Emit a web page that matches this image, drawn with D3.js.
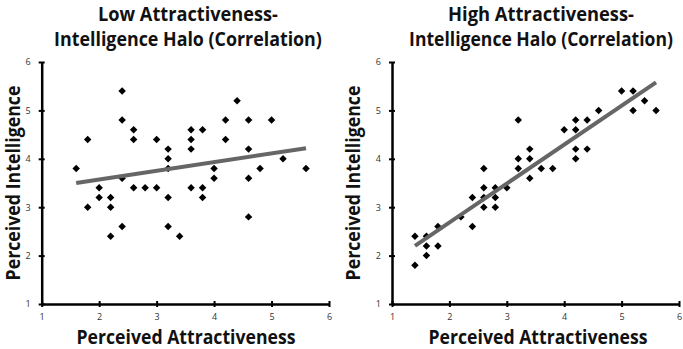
<!DOCTYPE html>
<html><head><meta charset="utf-8">
<script src="https://cdn.jsdelivr.net/npm/d3@7"></script>
<style>
html,body{margin:0;padding:0;background:#fff;}
svg{display:block;}
</style></head>
<body>
<svg id="chart" width="683" height="349"></svg>
<script>
// ---- Data ----
const axisTicks = [1, 2, 3, 4, 5, 6];
const panelTitles = [["Low Attractiveness-", "Intelligence Halo (Correlation)"],
                     ["High Attractiveness-", "Intelligence Halo (Correlation)"]];
const xTitle = "Perceived Attractiveness";
const yTitle = "Perceived Intelligence";

const lowX = [1.6,1.8,1.8,2.0,2.0,2.2,2.2,2.2,2.4,2.4,2.4,2.4,2.6,2.6,2.6,2.8,3.0,3.0,3.2,3.2,3.2,3.2,3.2,3.4,3.6,3.6,3.6,3.6,3.8,3.8,3.8,4.0,4.0,4.2,4.2,4.4,4.6,4.6,4.6,4.6,4.8,5.0,5.2,5.6];
const lowY = [3.8,4.4,3.0,3.4,3.2,3.2,3.0,2.4,5.4,4.8,3.6,2.6,4.6,4.4,3.4,3.4,4.4,3.4,4.2,4.0,3.8,3.2,2.6,2.4,4.6,4.4,4.2,3.4,4.6,3.4,3.2,3.8,3.6,4.8,4.4,5.2,4.8,4.2,3.6,2.8,3.8,4.8,4.0,3.8];
const lowTrendX = [1.6, 5.6];
const lowTrendY = [3.5, 4.22];

const highX = [1.4,1.4,1.6,1.6,1.6,1.8,1.8,2.2,2.4,2.4,2.6,2.6,2.6,2.6,2.8,2.8,2.8,3.0,3.2,3.2,3.2,3.4,3.4,3.4,3.6,3.8,4.0,4.2,4.2,4.2,4.2,4.4,4.4,4.6,5.0,5.2,5.2,5.4,5.6];
const highY = [2.4,1.8,2.4,2.2,2.0,2.6,2.2,2.8,3.2,2.6,3.8,3.4,3.2,3.0,3.4,3.2,3.0,3.4,4.8,4.0,3.8,4.2,4.0,3.6,3.8,3.8,4.6,4.8,4.6,4.2,4.0,4.8,4.2,5.0,5.4,5.4,5.0,5.2,5.0];
const highTrendX = [1.4, 5.6];
const highTrendY = [2.2, 5.58];

// ---- Layout ----
const svg = d3.select("#chart");
const font = "'Open Sans', 'DejaVu Sans', sans-serif";
const yTop = 62, yBot = 304;
const panels = [
  {x0: 41.7, x1: 329, xs: lowX, ys: lowY, tx: lowTrendX, ty: lowTrendY, titles: panelTitles[0],
   t1w: 180, t2w: 268, tcx: 188, axTitleX: 186, yTitleX: 20},
  {x0: 392, x1: 679, xs: highX, ys: highY, tx: highTrendX, ty: highTrendY, titles: panelTitles[1],
   t1w: 186, t2w: 264, tcx: 541, axTitleX: 538, yTitleX: 360}
];

const y = d3.scaleLinear().domain([1, 6]).range([yBot, yTop]);

// horizontally condensed bold text (Calibri-like narrow look) via transform scale
function condensedText(parent, cx, cy, str, size, width, rotate) {
  const g = parent.append("g");
  const t = g.append("text").attr("text-anchor", "middle")
    .attr("font-family", font).attr("font-weight", "bold").attr("font-size", size)
    .attr("fill", "#111").text(str);
  const natural = t.node().getComputedTextLength() || width;
  const s = width / natural;
  g.attr("transform", `translate(${cx},${cy})${rotate ? " rotate(-90)" : ""} scale(${s},1)`);
  return g;
}

panels.forEach(p => {
  const x = d3.scaleLinear().domain([1, 6]).range([p.x0, p.x1]);
  const g = svg.append("g");

  // titles
  condensedText(g, p.tcx, 21, p.titles[0], 20, p.t1w, false);
  condensedText(g, p.tcx, 46, p.titles[1], 20, p.t2w, false);

  // x axis
  const xa = g.append("g").attr("transform", `translate(0,${yBot})`)
    .call(d3.axisBottom(x).tickValues(axisTicks).tickFormat(d3.format("d")).tickSizeOuter(0).tickSizeInner(3));
  xa.select(".domain").attr("stroke", "#000").attr("stroke-width", 2.5);
  xa.selectAll(".tick line").attr("y1", -3).attr("y2", 3).attr("stroke", "#000").attr("stroke-width", 2);
  xa.selectAll(".tick text").attr("y", 10).attr("font-family", font).attr("font-size", 9).attr("fill", "#333");

  // y axis
  const ya = g.append("g").attr("transform", `translate(${p.x0},0)`)
    .call(d3.axisLeft(y).tickValues(axisTicks).tickFormat(d3.format("d")).tickSizeOuter(0).tickSizeInner(3));
  ya.select(".domain").attr("stroke", "#000").attr("stroke-width", 2.5);
  ya.selectAll(".tick line").attr("x1", -3).attr("x2", 3).attr("stroke", "#000").attr("stroke-width", 2);
  ya.selectAll(".tick text").attr("x", -11).attr("font-family", font).attr("font-size", 9).attr("fill", "#333");

  // axis titles
  condensedText(g, p.axTitleX, 344, xTitle, 20, 219, false);
  condensedText(g, p.yTitleX, (yTop + yBot) / 2, yTitle, 20, 195, true);

  // points
  const pts = p.xs.map((v, i) => [v, p.ys[i]]);
  g.selectAll("path.pt").data(pts).enter().append("path").attr("class", "pt")
    .attr("d", d3.symbol().type(d3.symbolSquare).size(28))
    .attr("transform", d => `translate(${x(d[0])},${y(d[1])}) rotate(45)`)
    .attr("fill", "#000");

  // trend line
  const tl = p.tx.map((v, i) => [v, p.ty[i]]);
  g.append("path").datum(tl)
    .attr("d", d3.line().x(d => x(d[0])).y(d => y(d[1])))
    .attr("stroke", "#666").attr("stroke-width", 4).attr("fill", "none");
});
</script>
</body></html>
